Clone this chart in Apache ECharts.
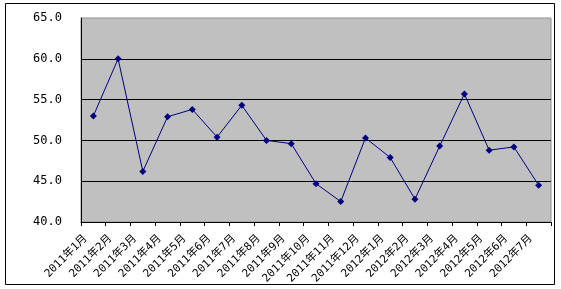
<!DOCTYPE html>
<html><head><meta charset="utf-8">
<script src="https://cdn.jsdelivr.net/npm/echarts@6/dist/echarts.min.js"></script>
<style>html,body{margin:0;padding:0;background:#fff}#c{width:561px;height:289px}</style>
</head><body><div id="c"></div>
<script>
const categories = ['2011年1月','2011年2月','2011年3月','2011年4月','2011年5月','2011年6月','2011年7月','2011年8月','2011年9月','2011年10月','2011年11月','2011年12月','2012年1月','2012年2月','2012年3月','2012年4月','2012年5月','2012年6月','2012年7月'];
const values = [53.0, 60.0, 46.2, 52.9, 53.8, 50.4, 54.3, 50.0, 49.6, 44.7, 42.5, 50.3, 47.9, 42.8, 49.3, 55.7, 48.8, 49.2, 44.5];
const yMin = 40, yMax = 65, yStep = 5;

const chart = echarts.init(document.getElementById('c'), null, {renderer:'canvas'});
chart.setOption({
  animation: false,
  backgroundColor: '#fff',
  graphic: [{type:'rect', shape:{x:5.5,y:3.5,width:549,height:281}, style:{fill:'none', stroke:'#000', lineWidth:1}, z:100}],
  grid: {left:81, right:10, top:18, bottom:67, show:true, backgroundColor:'#c0c0c0', borderColor:'#909090', borderWidth:1},
  xAxis: {
    type:'category', data: categories, boundaryGap:true,
    axisLine:{lineStyle:{color:'#000', width:1}},
    axisTick:{show:true, length:4, lineStyle:{color:'#000'}},
    axisLabel:{rotate:45, interval:0, margin:7, padding:[0,11,22,0], color:'#000', fontSize:11, fontFamily:'"DejaVu Sans Mono","Noto Sans CJK SC",monospace'}
  },
  yAxis: {
    type:'value', min:yMin, max:yMax, interval:yStep,
    axisLine:{show:true, lineStyle:{color:'#000'}},
    axisTick:{show:false},
    splitLine:{show:true, showMaxLine:false, lineStyle:{color:'#000', width:1}},
    axisLabel:{margin:19, color:'#000', fontSize:12, fontFamily:'"DejaVu Sans Mono",monospace', formatter: v => v.toFixed(1)}
  },
  series: [{
    type:'line', data: values,
    symbol:'diamond', symbolSize:7,
    lineStyle:{color:'#000080', width:1},
    itemStyle:{color:'#000080'}
  }]
});
</script></body></html>
